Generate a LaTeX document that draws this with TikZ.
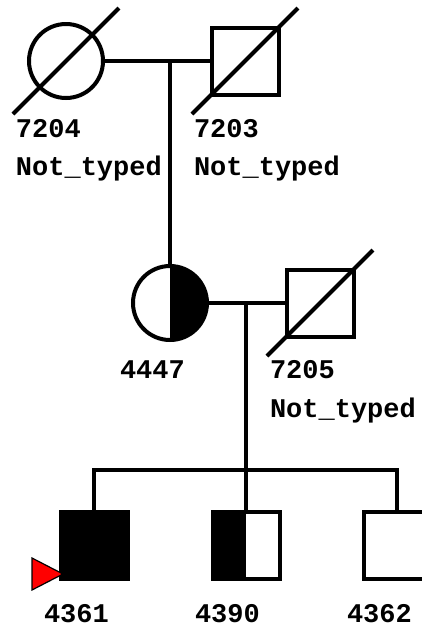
\documentclass[tikz,border=0pt]{standalone}
\usepackage{fontspec}
\setmonofont{Liberation Mono}
\usetikzlibrary{calc}

\begin{document}
\begin{tikzpicture}[
  x=1pt, y=-1pt,
  line width=4pt,
  font=\ttfamily\bfseries\fontsize{27}{30}\selectfont,
  female/.style={draw, circle, minimum size=74pt, inner sep=0pt},
  male/.style={draw, rectangle, minimum size=67pt, inner sep=0pt},
  affected/.style={fill=black},
  halfright/.style={path picture={\fill (path picture bounding box.north) rectangle (path picture bounding box.south east);}},
  halfleft/.style={path picture={\fill (path picture bounding box.south west) rectangle (path picture bounding box.north);}},
  tag/.style={anchor=base west, inner sep=0pt},
  proband/.style={fill=red, draw=black, line width=1.2pt, line join=miter},
]
\useasboundingbox (0,0) rectangle (422,630);

\node[female] (c7204) at (66,61) {};
\node[male] (s7203) at (245,61) {};
\node[female, halfright] (c4447) at (170,303) {};
\node[male] (s7205) at (320,303) {};
\node[male, affected] (s4361) at (94,545) {};
\node[male, halfleft] (s4390) at (246,545) {};
\node[male] (s4362) at (397,545) {};

\draw ($(c7204)+(-53,53)$) -- ($(c7204)+(53,-53)$);
\draw ($(s7203)+(-53,53)$) -- ($(s7203)+(53,-53)$);
\draw ($(s7205)+(-53,53)$) -- ($(s7205)+(53,-53)$);

\coordinate (m1) at (170,61);
\coordinate (m2) at (246,303);
\coordinate (sib) at (246,470);

\draw (c7204.east) -- (s7203.west);
\draw (m1) -- (c4447.north);
\draw (c4447.east) -- (s7205.west);
\draw (m2) -- (s4390.north);
\draw (s4361.north) -- (s4361.north |- sib) -- (s4362.north |- sib) -- (s4362.north);

\draw[proband] ($(s4361)+(-62,13)$) -- ($(s4361)+(-31,29)$) -- ($(s4361)+(-62,45)$) -- cycle;

\node[tag] (l7204) at (14,137) {7204};
\node[tag] (n7204) at (14,175) {Not\_typed};
\node[tag] (l7203) at (192,137) {7203};
\node[tag] (n7203) at (192,175) {Not\_typed};
\node[tag] (l4447) at (118,378) {4447};
\node[tag] (l7205) at (268,378) {7205};
\node[tag] (n7205) at (268,417) {Not\_typed};
\node[tag] (l4361) at (42,622) {4361};
\node[tag] (l4390) at (193,622) {4390};
\node[tag] (l4362) at (345,622) {4362};
\end{tikzpicture}
\end{document}
